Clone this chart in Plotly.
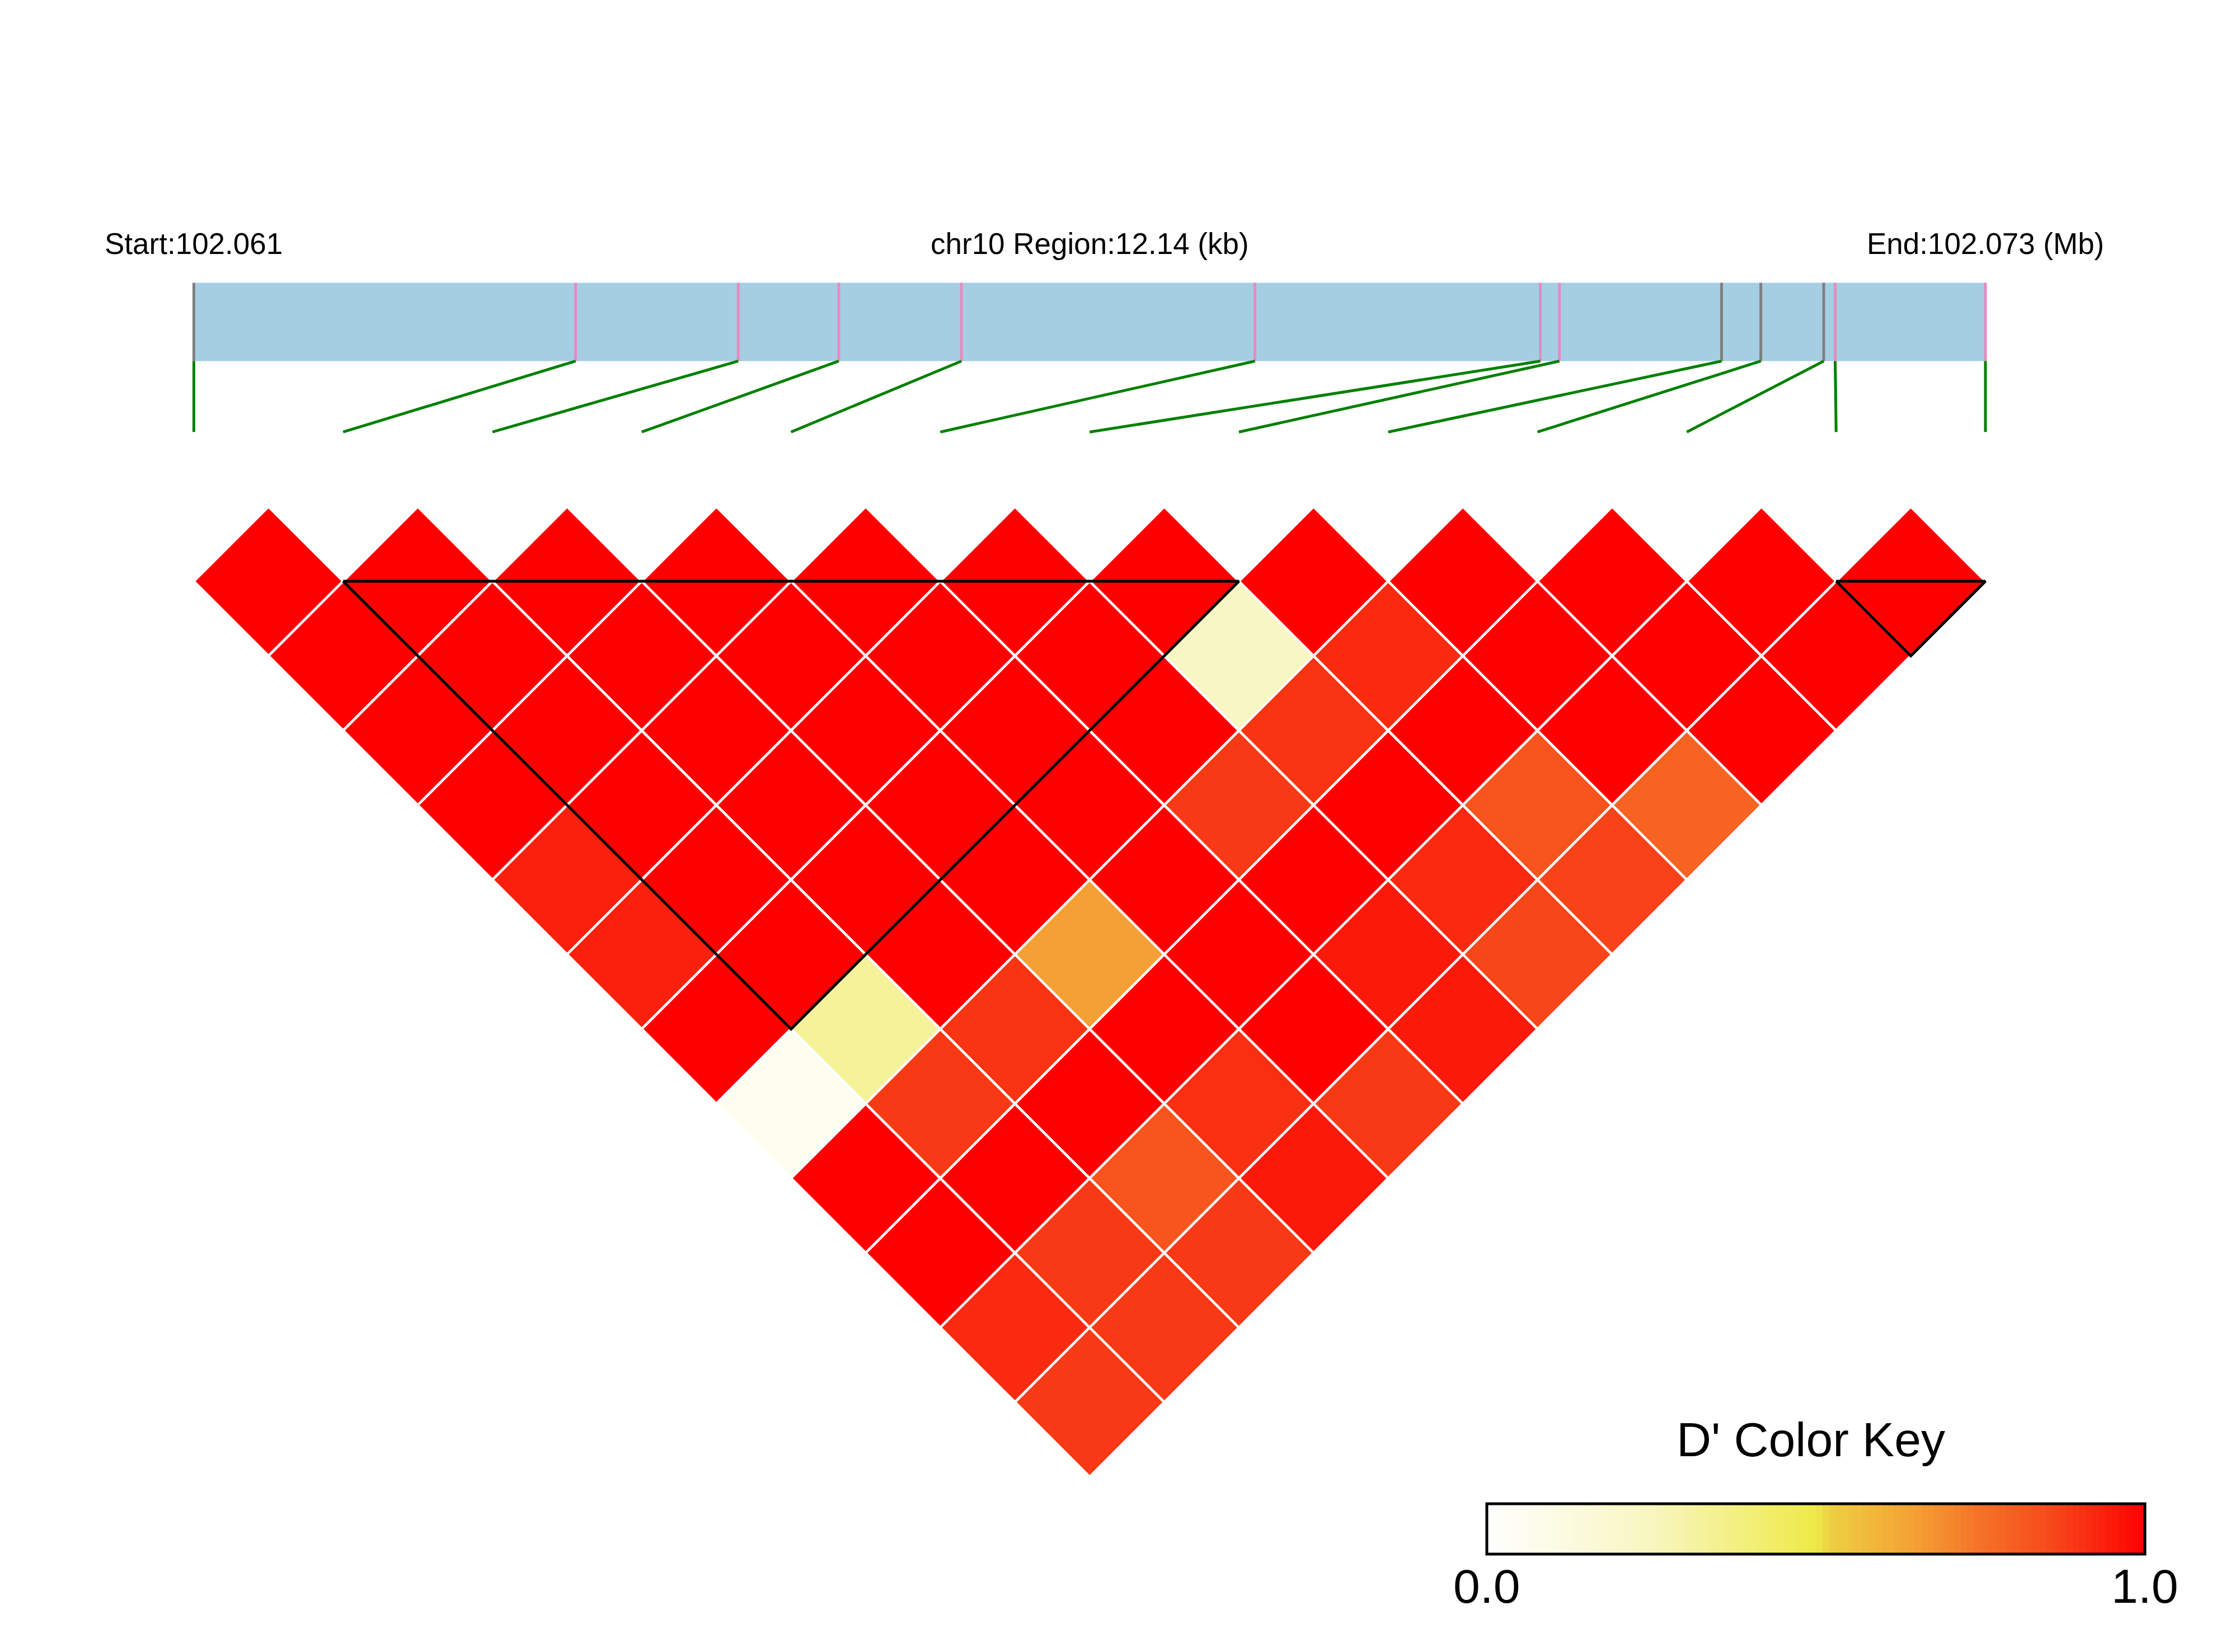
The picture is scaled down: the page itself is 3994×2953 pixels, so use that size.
import numpy as np
import plotly.graph_objects as go

# ---------------- data ----------------
chrom = "chr10"
region_start_bp = 102061000
region_end_bp = 102073140
snp_pos_bp = [102061000, 102063587, 102064689, 102065370, 102066201, 102068190,
              102070124, 102070253, 102071352, 102071618, 102072044, 102072122, 102073140]
snp_bar_colors = ["#7F7F7F", "#E78AC3", "#E78AC3", "#E78AC3", "#E78AC3", "#E78AC3",
                  "#E78AC3", "#E78AC3", "#7F7F7F", "#7F7F7F", "#7F7F7F", "#E78AC3", "#E78AC3"]

# D' values, row i holds pairs (i, j) for j = i+1 .. 12
dprime_rows = [
    [1.00, 1.00, 1.00, 1.00, 0.94, 0.94, 1.00, 0.06, 1.00, 1.00, 0.92, 0.89],
    [1.00, 1.00, 1.00, 1.00, 1.00, 1.00, 0.33, 0.89, 1.00, 0.89, 0.89],
    [1.00, 1.00, 1.00, 1.00, 1.00, 1.00, 0.90, 1.00, 0.83, 0.89],
    [1.00, 1.00, 1.00, 1.00, 1.00, 0.65, 1.00, 0.91, 0.95],
    [1.00, 1.00, 1.00, 1.00, 1.00, 1.00, 1.00, 0.89],
    [1.00, 1.00, 1.00, 0.89, 1.00, 0.95, 0.95],
    [1.00, 0.24, 0.90, 1.00, 0.92, 0.86],
    [1.00, 0.92, 1.00, 0.83, 0.87],
    [1.00, 1.00, 1.00, 0.79],
    [1.00, 1.00, 1.00],
    [1.00, 1.00],
    [1.00],
]
ld_blocks = [(1, 7), (11, 12)]

key_title = "D' Color Key"
key_ticks = ["0.0", "1.0"]

color_stops = [0.0, 0.25, 0.5, 0.52, 0.6, 0.65, 0.75, 0.85, 0.92, 1.0]
color_hex = ["#FFFFFF", "#F8F6C0", "#EEEA48", "#EDD043", "#F2B23A", "#F4A034",
             "#F57228", "#F74C1C", "#F92A10", "#FF0000"]


def hex2rgb(h):
    h = h.lstrip("#")
    return [int(h[k:k + 2], 16) for k in (0, 2, 4)]


def value_color(v):
    v = min(max(v, 0.0), 1.0)
    for a in range(len(color_stops) - 1):
        if color_stops[a] <= v <= color_stops[a + 1]:
            t = (v - color_stops[a]) / (color_stops[a + 1] - color_stops[a])
            c0, c1 = hex2rgb(color_hex[a]), hex2rgb(color_hex[a + 1])
            c = [round(c0[k] + (c1[k] - c0[k]) * t) for k in range(3)]
            return "rgb(%d,%d,%d)" % tuple(c)
    return color_hex[-1]


n = len(snp_pos_bp)
region_len = region_end_bp - region_start_bp
# physical position mapped into SNP index units
phys_u = [(p - region_start_bp) / region_len * (n - 1) for p in snp_pos_bp]

fig = go.Figure()

# LD diamonds
for i, row in enumerate(dprime_rows):
    for off, v in enumerate(row):
        j = i + 1 + off
        cx = (i + j) / 2.0
        cy = -(j - i - 1) / 2.0
        fig.add_trace(go.Scatter(
            x=[cx - 0.5, cx, cx + 0.5, cx, cx - 0.5],
            y=[cy, cy + 0.5, cy, cy - 0.5, cy],
            mode="lines", fill="toself", fillcolor=value_color(v),
            line=dict(color="white", width=4.5), hoverinfo="text",
            text="SNP%d-SNP%d D'=%.2f" % (i + 1, j + 1, v), showlegend=False))

# LD block outlines
for a, b in ld_blocks:
    fig.add_trace(go.Scatter(
        x=[a, b, (a + b) / 2.0, a], y=[0, 0, -(b - a) / 2.0, 0],
        mode="lines", line=dict(color="black", width=5),
        hoverinfo="skip", showlegend=False))

shapes = []
bar_lo, bar_hi, link_lo = 1.475, 2.0, 1.0
shapes.append(dict(type="rect", xref="x", yref="y", x0=phys_u[0], x1=phys_u[-1],
                   y0=bar_lo, y1=bar_hi, fillcolor="#A6CEE3", line=dict(width=0), layer="above"))
for k in range(n):
    shapes.append(dict(type="line", xref="x", yref="y", x0=phys_u[k], x1=phys_u[k],
                       y0=bar_lo, y1=bar_hi, line=dict(color=snp_bar_colors[k], width=5)))
    shapes.append(dict(type="line", xref="x", yref="y", x0=phys_u[k], x1=k,
                       y0=bar_lo, y1=link_lo, line=dict(color="#008000", width=5)))

# colour key
nb = 100
edges = np.linspace(0, 1, nb + 1)
centers = (edges[:-1] + edges[1:]) / 2
cs = [[s, c] for s, c in zip(color_stops, color_hex)]
fig.add_trace(go.Heatmap(x=edges, y=[0, 1], z=[centers], colorscale=cs, zmin=0, zmax=1,
                         showscale=False, xaxis="x2", yaxis="y2", hoverinfo="skip"))
kx0, kx1 = 2657 / 3994, 3833 / 3994
ky0, ky1 = 1 - 2778 / 2953, 1 - 2688 / 2953
shapes.append(dict(type="rect", xref="paper", yref="paper", x0=kx0, x1=kx1, y0=ky0, y1=ky1,
                   line=dict(color="black", width=5), fillcolor="rgba(0,0,0,0)"))

FONT = "Liberation Sans, Arial, sans-serif"
ann = []
ty = 2.262
ann.append(dict(x=phys_u[0], y=ty, xref="x", yref="y", showarrow=False, xanchor="center", yanchor="middle",
                text="Start:%.3f" % (region_start_bp / 1e6), font=dict(size=53, color="black", family=FONT)))
ann.append(dict(x=(phys_u[0] + phys_u[-1]) / 2, y=ty, xref="x", yref="y", showarrow=False,
                xanchor="center", yanchor="middle",
                text="%s Region:%.2f (kb)" % (chrom, region_len / 1000.0),
                font=dict(size=53, color="black", family=FONT)))
ann.append(dict(x=phys_u[-1], y=ty, xref="x", yref="y", showarrow=False, xanchor="center", yanchor="middle",
                text="End:%.3f (Mb)" % (region_end_bp / 1e6), font=dict(size=53, color="black", family=FONT)))
ann.append(dict(x=3236 / 3994, y=1 - 2573 / 2953, xref="paper", yref="paper", showarrow=False,
                xanchor="center", yanchor="middle",
                text=key_title, font=dict(size=86, color="black", family=FONT)))
for val, lab in zip([0, 1], key_ticks):
    ann.append(dict(x=val, y=1 - 2835 / 2953, xref="x2", yref="paper", showarrow=False,
                    xanchor="center", yanchor="middle",
                    text=lab, font=dict(size=86, color="black", family=FONT)))

W, H = 3994, 2953
px_per_u = 266.8
x0_pix, y0_pix = 346.4, 1039.0
xr = [-x0_pix / px_per_u, (W - x0_pix) / px_per_u]
yr = [(y0_pix - H) / px_per_u, y0_pix / px_per_u]

fig.update_layout(
    width=W, height=H, margin=dict(l=0, r=0, t=0, b=0),
    paper_bgcolor="white", plot_bgcolor="white", showlegend=False,
    xaxis=dict(range=xr, domain=[0, 1], visible=False, fixedrange=True),
    yaxis=dict(range=yr, domain=[0, 1], visible=False, fixedrange=True),
    xaxis2=dict(range=[0, 1], domain=[kx0, kx1], anchor="y2", visible=False),
    yaxis2=dict(range=[0, 1], domain=[ky0, ky1], anchor="x2", visible=False),
    shapes=shapes, annotations=ann,
)

fig.write_html("out.html", config={"displayModeBar": False},
               post_script="document.body.style.margin='0px';document.body.style.overflow='hidden';")
